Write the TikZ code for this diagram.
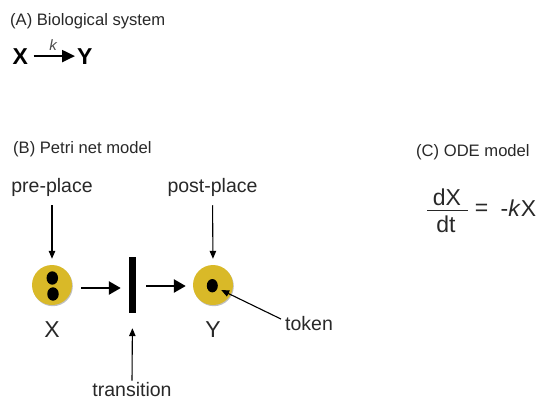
\documentclass[tikz,border=0pt]{standalone}
\usepackage{fontspec}
\setmainfont{Liberation Sans}
\usetikzlibrary{arrows.meta,shapes.geometric,shadows}
\definecolor{mustard}{RGB}{217,185,40}
\definecolor{labelgray}{RGB}{40,40,40}
\newcommand{\fsz}[1]{\fontsize{#1}{#1}\selectfont}
\begin{document}
\begin{tikzpicture}[x=1pt,y=-1pt,
  txt/.style={inner sep=0pt, text=labelgray},
  place/.style={circle, fill=mustard, minimum size=40pt, inner sep=0pt,
    drop shadow={shadow xshift=0.8pt, shadow yshift=-1.2pt, opacity=0.25, fill=black}},
  tok/.style={ellipse, fill=black, inner sep=0pt, minimum width=11.5pt, minimum height=13.4pt},
  bar/.style={rectangle, fill=black, inner sep=0pt, minimum width=7pt, minimum height=56pt},
  bigarrow/.style={line width=2.6pt, -{Triangle[length=12pt,width=13pt]}},
  thinarrow/.style={line width=1.1pt, -{Triangle[length=8pt,width=6.5pt]}},
]
\useasboundingbox (0,0) rectangle (540,399);

% (A) Biological system
\node[txt, anchor=base west, font=\fsz{16.6}] (lA) at (10,25) {(A) Biological system};
\node[inner sep=0pt, anchor=base west, font=\fsz{23}\bfseries] (bx) at (12.5,64) {X};
\node[inner sep=0pt, anchor=base west, font=\fsz{23}\bfseries] (by) at (77,64) {Y};
\draw[line width=2.2pt, -{Triangle[length=13pt,width=12pt]}] ([xshift=5.5pt]bx.east) -- ([xshift=-2pt]by.west);
\node[inner sep=0pt, text=black!70, anchor=base, font=\fsz{15}\itshape] (k) at (53,50) {k};

% (B) Petri net model
\node[txt, anchor=base west, font=\fsz{16.6}] (lB) at (13,153) {(B) Petri net model};
\node[txt, anchor=base, font=\fsz{19.5}] (pre) at (52,192) {pre-place};
\node[txt, anchor=base, font=\fsz{19.5}] (post) at (212.5,192) {post-place};

\node[place] (px) at (52,285) {};
\node[tok] (t1) at (52.3,278) {};
\node[tok] (t2) at (53,294) {};
\node[bar] (tr) at (132.5,285) {};
\node[place] (py) at (213,285) {};
\node[tok, minimum width=11pt] (t3) at (212.3,285.7) {};

\draw[bigarrow] ([xshift=9pt,yshift=-3pt]px.east) -- ([xshift=-8pt,yshift=-3pt]tr.west);
\draw[bigarrow] ([xshift=10pt,yshift=-1pt]tr.east) -- ([xshift=-7pt,yshift=-1pt]py.west);

\draw[thinarrow, shorten <=9pt, shorten >=6pt] (pre.south) -- (px.north);
\draw[thinarrow, shorten <=9pt, shorten >=6pt] (post.south) -- (py.north);

\node[txt, anchor=base, font=\fsz{23}] (lx) at (52,337) {X};
\node[txt, anchor=base, font=\fsz{23}] (ly) at (213,337) {Y};

\node[txt, anchor=base west, font=\fsz{19.5}] (tokl) at (285,330) {token};
\draw[thinarrow, shorten >=4pt] ([xshift=-4pt,yshift=4pt]tokl.west) -- (t3);

\node[txt, anchor=base, font=\fsz{19.5}] (trl) at (132,396) {transition};
\draw[thinarrow, shorten <=1pt, shorten >=15pt] (trl.north) -- (tr.south);

% (C) ODE model
\node[txt, anchor=base west, font=\fsz{16.6}] (lC) at (416,156) {(C) ODE model};
\node[txt, anchor=base, font=\fsz{23}] (num) at (447,205) {dX};
\node[txt, anchor=base, font=\fsz{23}] (den) at (446,232) {dt};
\coordinate (fl) at (427,210.5);
\coordinate (fr) at (468,210.5);
\draw[line width=1.4pt, labelgray] (fl) -- (fr);
\node[txt, font=\fsz{23}] (eq) at (481.5,210) {=};
\node[txt, anchor=base west, font=\fsz{23}] (rhs) at (500.5,216) {-\textit{k}X};
\end{tikzpicture}
\end{document}
